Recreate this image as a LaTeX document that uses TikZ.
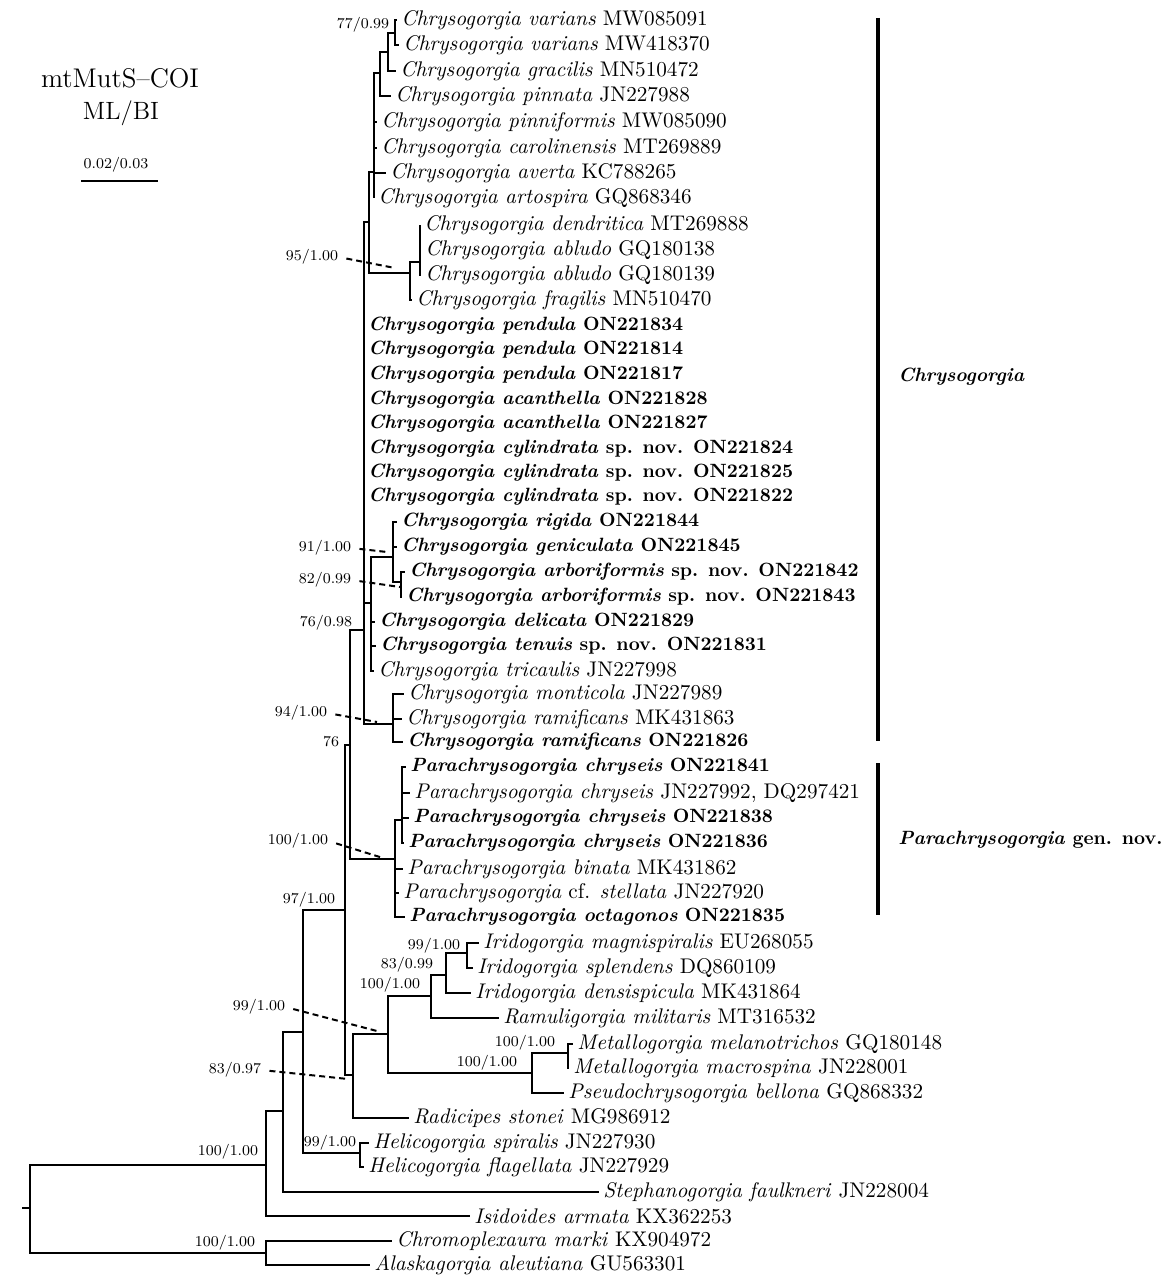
\documentclass[tikz,border=0pt]{standalone}
\usepackage{tikz}
\newcommand{\leaffont}{\fontsize{10.6}{12}\selectfont}
\newcommand{\boldfont}{\fontsize{9.6}{12}\selectfont\bfseries}
\newcommand{\supfont}{\fontsize{7.5}{9}\selectfont}
\newcommand{\titlefont}{\fontsize{13.5}{15}\selectfont}
\newcommand{\methodfont}{\fontsize{12.5}{15}\selectfont}
\newcommand{\tx}[2]{\textit{#1} #2}
\newcommand{\tb}[2]{{\boldfont\textit{#1} #2}}
\newcommand{\tipsep}{2pt}
\tikzset{
    branch/.style={line width=0.75pt},
    leaf/.style={anchor=west, inner sep=\tipsep, font=\leaffont},
    support/.style={inner sep=0pt, font=\supfont},
    pointer/.style={line width=1pt, dash pattern=on 3pt off 2pt, shorten <=4pt},
    cladebar/.style={line width=2pt},
    cladename/.style={anchor=west, inner sep=0pt, font=\boldfont}
}

\begin{document}
\begin{tikzpicture}[x=0.5pt, y=-0.5pt]
\useasboundingbox (0,0) rectangle (1175,1284);

\node[font=\titlefont] (title) at (120,78) {mtMutS--COI};
\node[font=\methodfont] (method) at (121,113) {ML/BI};
\node[support] (scalelab) at (116,165) {0.02/0.03};
\coordinate (sb1) at (81,181);
\coordinate (sb2) at (158,181);
\draw[line width=1.2pt] (sb1) -- (sb2);

% internal nodes
\coordinate (root) at (22,1208);
\coordinate (R) at (30,1208);
\coordinate (A1) at (266,1165);
\coordinate (OUT) at (266,1253);
\coordinate (A2) at (283,1111);
\coordinate (A3) at (303,1032);
\coordinate (A4) at (345,910);
\coordinate (HE) at (360,1153);
\coordinate (CP) at (350,745);
\coordinate (IR) at (353,1075);
\coordinate (IM) at (388,1034);
\coordinate (IRR) at (431,996);
\coordinate (IRI) at (446,975);
\coordinate (IRA) at (467,953);
\coordinate (MET) at (532,1073);
\coordinate (MEM) at (568,1053);
\coordinate (CH) at (364,630);
\coordinate (PA) at (395,859);
\coordinate (P1) at (402,820);
\coordinate (CA) at (369,222);
\coordinate (AV) at (374,172);
\coordinate (U3) at (380,73);
\coordinate (U2) at (388,52);
\coordinate (U1) at (395,33);
\coordinate (FR) at (410,273);
\coordinate (DE) at (420,262);
\coordinate (CR) at (371,603);
\coordinate (RG) at (393,557);
\coordinate (AR) at (401,582);
\coordinate (MO) at (393,724);

% leaves
\node[leaf] (l01) at (397,20) {\tx{Chrysogorgia varians}{MW085091}};
\node[leaf] (l02) at (399,45) {\tx{Chrysogorgia varians}{MW418370}};
\node[leaf] (l03) at (396,71) {\tx{Chrysogorgia gracilis}{MN510472}};
\node[leaf] (l04) at (391,96) {\tx{Chrysogorgia pinnata}{JN227988}};
\node[leaf] (l05) at (377,122) {\tx{Chrysogorgia pinniformis}{MW085090}};
\node[leaf] (l06) at (377,148) {\tx{Chrysogorgia carolinensis}{MT269889}};
\node[leaf] (l07) at (386,173) {\tx{Chrysogorgia averta}{KC788265}};
\node[leaf] (l08) at (374,198) {\tx{Chrysogorgia artospira}{GQ868346}};
\node[leaf] (l09) at (420,225) {\tx{Chrysogorgia dendritica}{MT269888}};
\node[leaf] (l10) at (421,250) {\tx{Chrysogorgia abludo}{GQ180138}};
\node[leaf] (l11) at (421,275) {\tx{Chrysogorgia abludo}{GQ180139}};
\node[leaf] (l12) at (412,300) {\tx{Chrysogorgia fragilis}{MN510470}};
\node[leaf] (l13) at (364,326) {\tb{Chrysogorgia pendula}{ON221834}};
\node[leaf] (l14) at (364,350) {\tb{Chrysogorgia pendula}{ON221814}};
\node[leaf] (l15) at (364,375) {\tb{Chrysogorgia pendula}{ON221817}};
\node[leaf] (l16) at (364,400) {\tb{Chrysogorgia acanthella}{ON221828}};
\node[leaf] (l17) at (364,424) {\tb{Chrysogorgia acanthella}{ON221827}};
\node[leaf] (l18) at (364,449) {\tb{Chrysogorgia cylindrata}{sp. nov. ON221824}};
\node[leaf] (l19) at (364,473) {\tb{Chrysogorgia cylindrata}{sp. nov. ON221825}};
\node[leaf] (l20) at (364,497) {\tb{Chrysogorgia cylindrata}{sp. nov. ON221822}};
\node[leaf] (l21) at (397,522) {\tb{Chrysogorgia rigida}{ON221844}};
\node[leaf] (l22) at (397,547) {\tb{Chrysogorgia geniculata}{ON221845}};
\node[leaf] (l23) at (405,572) {\tb{Chrysogorgia arboriformis}{sp. nov. ON221842}};
\node[leaf] (l24) at (402,597) {\tb{Chrysogorgia arboriformis}{sp. nov. ON221843}};
\node[leaf] (l25) at (375,622) {\tb{Chrysogorgia delicata}{ON221829}};
\node[leaf] (l26) at (376,646) {\tb{Chrysogorgia tenuis}{sp. nov. ON221831}};
\node[leaf] (l27) at (374,671) {\tx{Chrysogorgia tricaulis}{JN227998}};
\node[leaf] (l28) at (404,694) {\tx{Chrysogorgia monticola}{JN227989}};
\node[leaf] (l29) at (402,719) {\tx{Chrysogorgia ramificans}{MK431863}};
\node[leaf] (l30) at (403,742) {\tb{Chrysogorgia ramificans}{ON221826}};
\node[leaf] (l31) at (406,767) {\tb{Parachrysogorgia chryseis}{ON221841}};
\node[leaf] (l32) at (410,793) {\tx{Parachrysogorgia chryseis}{JN227992, DQ297421}};
\node[leaf] (l33) at (409,818) {\tb{Parachrysogorgia chryseis}{ON221838}};
\node[leaf] (l34) at (404,843) {\tb{Parachrysogorgia chryseis}{ON221836}};
\node[leaf] (l35) at (403,869) {\tx{Parachrysogorgia binata}{MK431862}};
\node[leaf] (l36) at (399,893) {\tx{Parachrysogorgia}{cf. \textit{stellata} JN227920}};
\node[leaf] (l37) at (405,917) {\tb{Parachrysogorgia octagonos}{ON221835}};
\node[leaf] (l38) at (479,943) {\tx{Iridogorgia magnispiralis}{EU268055}};
\node[leaf] (l39) at (473,968) {\tx{Iridogorgia splendens}{DQ860109}};
\node[leaf] (l40) at (471,993) {\tx{Iridogorgia densispicula}{MK431864}};
\node[leaf] (l41) at (499,1018) {\tx{Ramuligorgia militaris}{MT316532}};
\node[leaf] (l42) at (573,1044) {\tx{Metallogorgia melanotrichos}{GQ180148}};
\node[leaf] (l43) at (569,1068) {\tx{Metallogorgia macrospina}{JN228001}};
\node[leaf] (l44) at (564,1093) {\tx{Pseudochrysogorgia bellona}{GQ868332}};
\node[leaf] (l45) at (409,1118) {\tx{Radicipes stonei}{MG986912}};
\node[leaf] (l46) at (369,1143) {\tx{Helicogorgia spiralis}{JN227930}};
\node[leaf] (l47) at (364,1167) {\tx{Helicogorgia flagellata}{JN227929}};
\node[leaf] (l48) at (599,1192) {\tx{Stephanogorgia faulkneri}{JN228004}};
\node[leaf] (l49) at (470,1216) {\tx{Isidoides armata}{KX362253}};
\node[leaf] (l50) at (392,1241) {\tx{Chromoplexaura marki}{KX904972}};
\node[leaf] (l51) at (370,1265) {\tx{Alaskagorgia aleutiana}{GU563301}};

% branches
\draw[branch] (root) -- (R);
\foreach \c in {A1,OUT} \draw[branch] (R) |- (\c);
\foreach \c in {l50,l51} \draw[branch] (OUT) |- (\c);
\foreach \c in {A2,l49} \draw[branch] (A1) |- (\c);
\foreach \c in {A3,l48} \draw[branch] (A2) |- (\c);
\foreach \c in {A4,HE} \draw[branch] (A3) |- (\c);
\foreach \c in {l46,l47} \draw[branch] (HE) |- (\c);
\foreach \c in {CP,IR} \draw[branch] (A4) |- (\c);
\foreach \c in {IM,l45} \draw[branch] (IR) |- (\c);
\foreach \c in {IRR,MET} \draw[branch] (IM) |- (\c);
\foreach \c in {IRI,l41} \draw[branch] (IRR) |- (\c);
\foreach \c in {IRA,l40} \draw[branch] (IRI) |- (\c);
\foreach \c in {l38,l39} \draw[branch] (IRA) |- (\c);
\foreach \c in {MEM,l44} \draw[branch] (MET) |- (\c);
\foreach \c in {l42,l43} \draw[branch] (MEM) |- (\c);
\foreach \c in {CH,PA} \draw[branch] (CP) |- (\c);
\foreach \c in {P1,l35,l36,l37} \draw[branch] (PA) |- (\c);
\foreach \c in {l31,l32,l33,l34} \draw[branch] (P1) |- (\c);
\foreach \c in {CA,l13,l14,l15,l16,l17,l18,l19,l20,CR,MO} \draw[branch] (CH) |- (\c);
\foreach \c in {AV,FR} \draw[branch] (CA) |- (\c);
\foreach \c in {U3,l05,l06,l07,l08} \draw[branch] (AV) |- (\c);
\foreach \c in {U2,l04} \draw[branch] (U3) |- (\c);
\foreach \c in {U1,l03} \draw[branch] (U2) |- (\c);
\foreach \c in {l01,l02} \draw[branch] (U1) |- (\c);
\foreach \c in {DE,l12} \draw[branch] (FR) |- (\c);
\foreach \c in {l09,l10,l11} \draw[branch] (DE) |- (\c);
\foreach \c in {RG,l25,l26,l27} \draw[branch] (CR) |- (\c);
\foreach \c in {l21,l22,AR} \draw[branch] (RG) |- (\c);
\foreach \c in {l23,l24} \draw[branch] (AR) |- (\c);
\foreach \c in {l28,l29,l30} \draw[branch] (MO) |- (\c);

% support values
\node[support] (s7799) at (363,25) {77/0.99};
\node[support] (s9500) at (312,257) {95/1.00};
\node[support] (s9100) at (325,548) {91/1.00};
\node[support] (s8299) at (325,580) {82/0.99};
\node[support] (s7698) at (326,623) {76/0.98};
\node[support] (s9400) at (301,713) {94/1.00};
\node[support] (s76) at (331,742) {76};
\node[support] (sPA) at (298,841) {100/1.00};
\node[support] (s9700) at (309,900) {97/1.00};
\node[support] (sIRA) at (434,946) {99/1.00};
\node[support] (sIRI) at (407,965) {83/0.99};
\node[support] (sIRR) at (390,985) {100/1.00};
\node[support] (sIM) at (259,1007) {99/1.00};
\node[support] (sIR) at (235,1070) {83/0.97};
\node[support] (sMEM) at (525,1043) {100/1.00};
\node[support] (sMET) at (487,1063) {100/1.00};
\node[support] (sHE) at (330,1143) {99/1.00};
\node[support] (sA1) at (228,1152) {100/1.00};
\node[support] (sOUT) at (225,1243) {100/1.00};

\coordinate (pFR) at (395,268);
\coordinate (pRG) at (387,552);
\coordinate (pAR) at (400,587);
\coordinate (pMO) at (377,722);
\coordinate (pPA) at (383,858);
\coordinate (pIM) at (377,1031);
\coordinate (pIR) at (348,1079);
\draw[pointer] (s9500.east) -- (pFR);
\draw[pointer] (s9100.east) -- (pRG);
\draw[pointer] (s8299.east) -- (pAR);
\draw[pointer] (s9400.east) -- (pMO);
\draw[pointer] (sPA.east) -- (pPA);
\draw[pointer] (sIM.east) -- (pIM);
\draw[pointer] (sIR.east) -- (pIR);

% clades
\coordinate (cb1) at (878,18);
\coordinate (cb2) at (878,741);
\coordinate (pb1) at (878,763);
\coordinate (pb2) at (878,915);
\draw[cladebar] (cb1) -- (cb2);
\draw[cladebar] (pb1) -- (pb2);
\node[cladename] (chry) at (898,377) {\textit{Chrysogorgia}};
\node[cladename] (para) at (898,840) {\textit{Parachrysogorgia} gen. nov.};
\end{tikzpicture}
\end{document}
